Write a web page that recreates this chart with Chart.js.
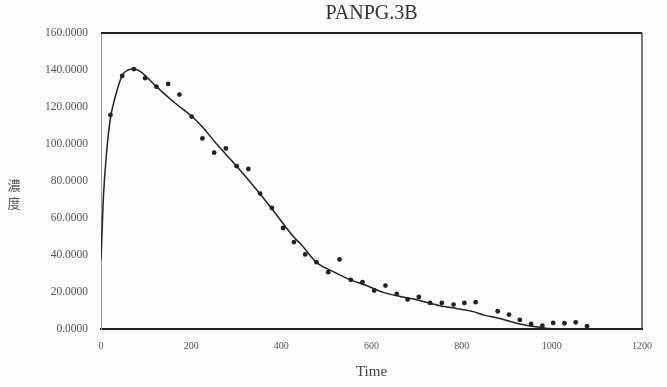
<!DOCTYPE html>
<html>
<head>
<meta charset="utf-8">
<script src="https://cdn.jsdelivr.net/npm/chart.js@4.4.1/dist/chart.umd.min.js"></script>
<style>
  html, body { margin: 0; padding: 0; background: #fcfcfc; }
  #wrap { position: relative; width: 667px; height: 387px; }
  .ych {
    position: absolute; left: 6px; width: 16px; height: 16px;
    font-family: "Noto Sans CJK TC", "Noto Sans CJK SC", sans-serif;
    font-size: 13px; line-height: 16px;
    color: #555; text-align: center;
  }
</style>
</head>
<body>
<div id="wrap">
  <canvas id="chart"></canvas>
  <div class="ych" style="top:177px">濃</div>
  <div class="ych" style="top:195px">度</div>
</div>
<script>
// observed concentrations (dots)
const obsTime = [21, 47, 73, 98, 123, 149, 174, 201, 225, 251, 277, 301, 327, 353, 379, 404, 428, 453, 478, 504, 529, 554, 580, 606, 631, 656, 680, 705, 730, 756, 782, 806, 831, 880, 905, 929, 954, 979, 1003, 1028, 1053, 1078];
const obsConc = [115.7, 136.8, 140.5, 135.6, 131, 132.5, 126.7, 114.8, 103, 95.3, 97.6, 88, 86.5, 73.2, 65.4, 54.6, 47, 40.3, 36.1, 30.7, 37.6, 26.6, 25.3, 20.8, 23.5, 19, 16, 17.3, 14.1, 14.1, 13.2, 14.1, 14.5, 9.6, 7.8, 4.9, 2.7, 1.8, 3.3, 3.1, 3.6, 1.5];

// fitted curve
const fitTime = [0, 5, 13, 21, 31, 47, 60, 73, 85, 98, 123, 160, 201, 220, 260, 301, 353, 379, 430, 441, 478, 515, 552, 589, 626, 663, 693, 752, 790, 826, 850, 880, 929, 973, 1000, 1200];
const fitConc = [37, 70, 97, 114, 125, 137, 140, 140.5, 139.5, 137, 131, 123, 115, 110.6, 99, 88, 73, 65, 49, 46.5, 36, 31, 26.7, 23.5, 19.8, 17.6, 16.2, 12.6, 11, 9.4, 7.5, 5.9, 2.7, 0.9, 0.2, 0.2];

const xTicks = [0, 200, 400, 600, 800, 1000, 1200];
const yTicks = [0, 20, 40, 60, 80, 100, 120, 140, 160];

const toPoints = (xs, ys) => xs.map((x, i) => ({ x: x, y: ys[i] }));

// top and right frame lines
const framePlugin = {
    id: "frame",
    afterDraw(chart) {
        const { ctx, chartArea } = chart;
        ctx.save();
        ctx.strokeStyle = "#222";
        ctx.lineWidth = 2;
        ctx.beginPath();
        ctx.moveTo(chartArea.left, chartArea.top);
        ctx.lineTo(chartArea.right, chartArea.top);
        ctx.stroke();
        ctx.lineWidth = 1.2;
        ctx.beginPath();
        ctx.moveTo(chartArea.right, chartArea.top);
        ctx.lineTo(chartArea.right, chartArea.bottom);
        ctx.stroke();
        ctx.restore();
    }
};

new Chart(document.getElementById("chart").getContext("2d"), {
    type: "scatter",
    data: {
        datasets: [
            {
                label: "fit",
                data: toPoints(fitTime, fitConc),
                showLine: true,
                borderColor: "#222",
                borderWidth: 1.5,
                pointRadius: 0,
                cubicInterpolationMode: "monotone"
            },
            {
                label: "observed",
                data: toPoints(obsTime, obsConc),
                backgroundColor: "#222",
                borderColor: "#222",
                pointRadius: 2.4,
                borderWidth: 0
            }
        ]
    },
    options: {
        responsive: true,
        maintainAspectRatio: false,
        animation: false,
        layout: { padding: { left: 0, right: 25, top: 0, bottom: 0 } },
        plugins: {
            legend: { display: false },
            tooltip: { enabled: false },
            title: {
                display: true,
                fullSize: false,
                text: "PANPG.3B",
                color: "#333",
                font: { family: "'Liberation Serif'", size: 20, weight: "normal" },
                padding: { top: 2, bottom: 7 }
            }
        },
        scales: {
            x: {
                type: "linear",
                min: 0,
                max: 1200,
                afterBuildTicks: (scale) => { scale.ticks = xTicks.map(v => ({ value: v })); },
                afterFit: (scale) => { scale.height = 58; },
                grid: { display: false, drawTicks: false },
                border: { display: true, color: "#222", width: 2 },
                ticks: {
                    color: "#555",
                    padding: 11,
                    font: { family: "'Liberation Serif'", size: 10 },
                    callback: (v) => String(v)
                },
                title: {
                    display: true,
                    text: "Time",
                    color: "#444",
                    font: { family: "'Liberation Serif'", size: 15 },
                    padding: { top: 0, bottom: 6 }
                }
            },
            y: {
                min: 0,
                max: 160,
                afterBuildTicks: (scale) => { scale.ticks = yTicks.map(v => ({ value: v })); },
                afterFit: (scale) => { scale.width = 101; },
                grid: { display: false, drawTicks: false },
                border: { display: true, color: "#999", width: 1 },
                ticks: {
                    color: "#555",
                    padding: 13,
                    font: { family: "'Liberation Serif'", size: 11.5 },
                    callback: (v) => v.toFixed(4)
                }
            }
        }
    },
    plugins: [framePlugin]
});
</script>
</body>
</html>
